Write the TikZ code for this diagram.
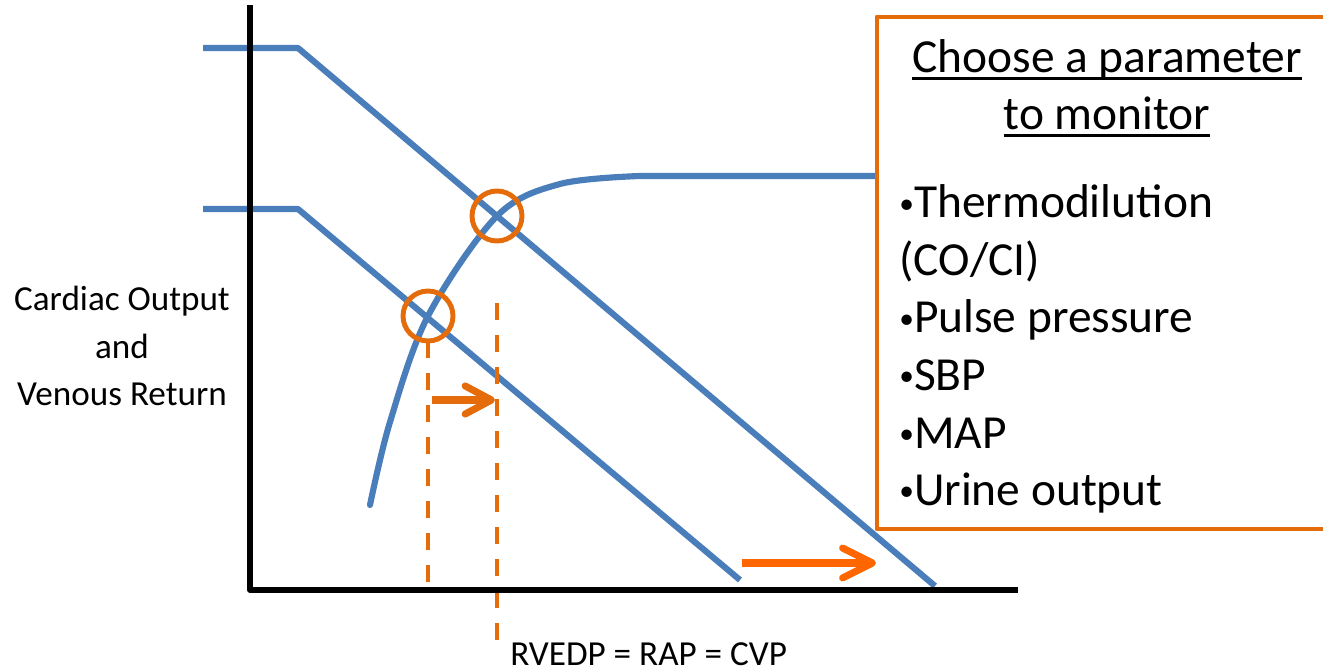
\documentclass[tikz,border=0pt]{standalone}
\usepackage{fontspec}
\setmainfont{Carlito}
\usetikzlibrary{arrows.meta}
\definecolor{lineblue}{HTML}{4A7EBB}
\definecolor{markorange}{HTML}{E46C0A}
\definecolor{shiftorange}{HTML}{FF6600}
\newcommand{\ulbox}[1]{\vtop{\hbox{\raisebox{0pt}[\height][0pt]{#1}}\kern2.5pt\hrule height 1.6pt}}
\newcommand{\dotmark}{\raisebox{0.1em}{\scalebox{0.62}{\textbullet}}}

\begin{document}
\begin{tikzpicture}[x=0.02cm,y=-0.02cm,line join=round,
  curve line/.style={lineblue,line width=3.5pt},
  mark circle/.style={circle,draw=markorange,line width=2.8pt,minimum size=1cm,inner sep=0pt,outer sep=0pt},
  drop line/.style={markorange,line width=2.6pt,dash pattern=on 9.7pt off 8.5pt},
  shift arrow/.style={line width=4pt,-{Straight Barb[length=15pt,width=16pt,round]}},
  axis line/.style={black,line width=3.4pt},
  head text/.style={font=\fontsize{27}{32}\selectfont,inner sep=0pt},
  side text/.style={font=\fontsize{20}{24}\selectfont,inner sep=0pt}]

  \useasboundingbox (0,0) rectangle (1323,672);

  \coordinate (vrA0) at (203,48);
  \coordinate (vrA1) at (298,48);
  \coordinate (vrA2) at (935,586);
  \coordinate (vrB0) at (203,209);
  \coordinate (vrB1) at (298,209);
  \coordinate (vrB2) at (740,580);
  \coordinate (co1) at (877,176);
  \coordinate (yTop) at (250,5);
  \coordinate (origin) at (250,590);
  \coordinate (xEnd) at (1018,590);

  \draw[curve line] (vrA0) -- (vrA1) -- (vrA2);
  \draw[curve line] (vrB0) -- (vrB1) -- (vrB2);
  \draw[curve line, line cap=round] plot[smooth,tension=0.55] coordinates
    {(370,505) (390,422) (428,316) (497,216) (560,184) (640,176)} -- (co1);

  \node[mark circle] (op1) at (428,316) {};
  \node[mark circle] (op2) at (497,216) {};

  \coordinate (drop1) at (428,590);
  \coordinate (drop2a) at (497,303);
  \coordinate (drop2b) at (497,648);
  \path[drop line] (op1.south) edge (drop1);
  \path[drop line] (drop2a) edge (drop2b);

  \coordinate (sa0) at (432,400);
  \coordinate (sa1) at (495,400);
  \coordinate (la0) at (742,563);
  \coordinate (la1) at (876,563);
  \draw[shift arrow, markorange] (sa0) -- (sa1);
  \draw[shift arrow, shiftorange, -{Straight Barb[length=17pt,width=17pt,round]}] (la0) -- (la1);

  \draw[axis line] (yTop) -- (origin) -- (xEnd);

  \fill[white] (877,17) rectangle (1323,529);
  \draw[markorange, line width=2.8pt] (1323,17) -- (877,17) -- (877,529) -- (1323,529);

  \node[head text, anchor=base] (title1) at (1107,73) {\ulbox{Choose a parameter}};
  \node[head text, anchor=base] (title2) at (1107,130) {\ulbox{to monitor}};
  \foreach \entry [count=\i] in {\dotmark Thermodilution, (CO/CI), \dotmark Pulse pressure,
    \dotmark SBP, \dotmark MAP, \dotmark Urine output}
    \node[head text, anchor=base west] (entry\i) at (899,{218+57.5*(\i-1)}) {\entry};

  \foreach \entry [count=\i] in {Cardiac Output, and, Venous Return}
    \node[side text, anchor=base] (side\i) at (122,{311+47.5*(\i-1)}) {\entry};
  \node[side text, anchor=base west] (xlabel) at (510,665) {RVEDP = RAP = CVP};
\end{tikzpicture}
\end{document}
